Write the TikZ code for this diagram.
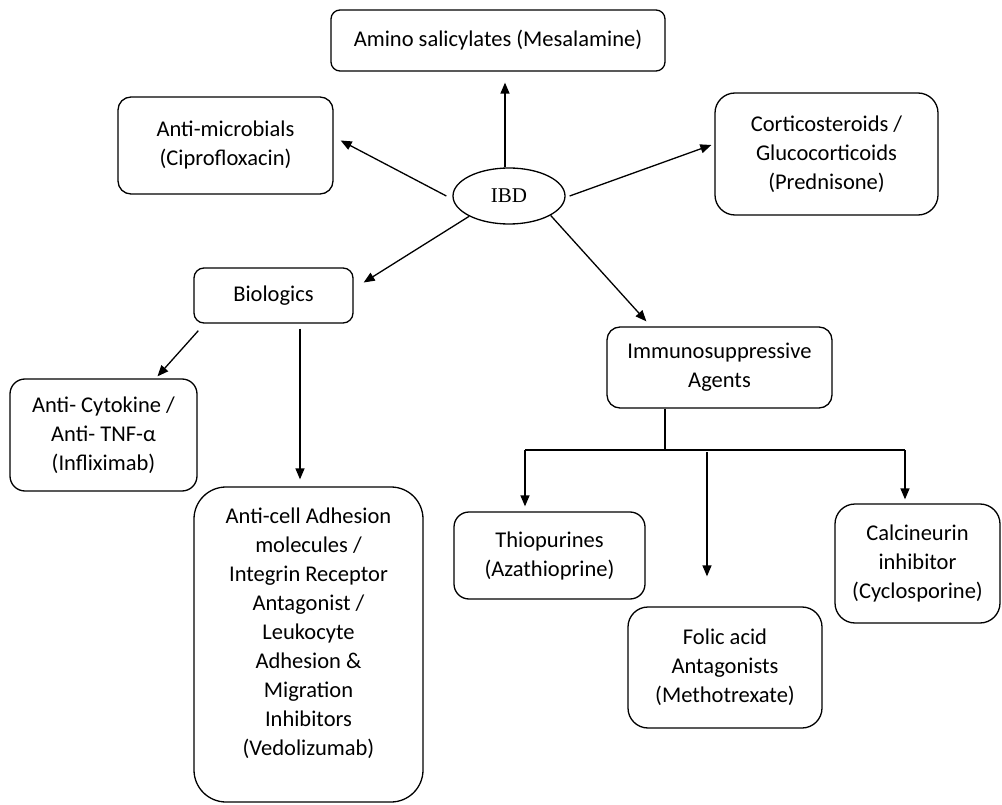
\documentclass[tikz,border=0pt]{standalone}
\usepackage{fontspec}
\setmainfont{Carlito}
\newfontfamily\ibdfont{Liberation Serif}
\usepackage{tikz}
\usetikzlibrary{arrows.meta, positioning, shapes.geometric}

\begin{document}
\begin{tikzpicture}[x=1pt, y=-1pt,
    box/.style={draw, line width=1.3pt, rounded corners=#1, align=center,
        inner sep=2pt, font=\fontsize{22.5}{29}\selectfont},
    box/.default=13pt,
    ibdnode/.style={draw, ellipse, line width=1.3pt, inner sep=0pt,
        minimum width=112pt, minimum height=56pt, font=\ibdfont\fontsize{21}{25}\selectfont},
    arr/.style={-{Triangle[length=11pt, width=9pt]}, line width=1.3pt},
    link/.style={line width=1.3pt}]
    \useasboundingbox (0,0) rectangle (1002,805);

    % Centre
    \node[ibdnode] (ibd) at (509,196) {IBD};

    % First level
    \node[box=9pt, minimum width=334pt, minimum height=61pt] (amino) at (498,40.5)
        {Amino salicylates (Mesalamine)};
    \node[box, minimum width=215pt, minimum height=97pt] (micro) at (225.5,145.5)
        {Anti-microbials\\(Ciprofloxacin)};
    \node[box=20pt, minimum width=223pt, minimum height=122pt] (cortico) at (826.5,154)
        {Corticosteroids /\\Glucocorticoids\\(Prednisone)};
    \node[box=10pt, minimum width=159pt, minimum height=55pt] (bio) at (273.5,295.5)
        {Biologics};
    \node[box, minimum width=225pt, minimum height=81pt] (immuno) at (719.5,367.5)
        {Immunosuppressive\\Agents};

    % Biologics branch
    \node[box=15pt, minimum width=187pt, minimum height=112pt] (cyto) at (103.5,435)
        {Anti- Cytokine /\\Anti- TNF-α\\(Infliximab)};
    \node[box=32pt, minimum width=229pt, minimum height=315pt, text depth=26pt] (cell) at (308.5,644.5)
        {Anti-cell Adhesion\\molecules /\\Integrin Receptor\\Antagonist /\\Leukocyte\\Adhesion \&\\Migration\\Inhibitors\\(Vedolizumab)};

    % Immunosuppressive branch
    \node[box=15pt, minimum width=191pt, minimum height=87pt] (thio) at (549.5,555.5)
        {Thiopurines\\(Azathioprine)};
    \node[box=20pt, minimum width=194pt, minimum height=121pt] (folic) at (725,667.5)
        {Folic acid\\Antagonists\\(Methotrexate)};
    \node[box=20pt, minimum width=165pt, minimum height=119pt] (calc) at (917.5,563.5)
        {Calcineurin\\inhibitor\\(Cyclosporine)};

    % Arrows from IBD
    \draw[arr, shorten >=11pt] ([xshift=-4pt]ibd.north) -- ([xshift=-4pt]ibd.north |- amino.south);
    \draw[arr] ([xshift=-6pt]ibd.west) -- ([xshift=7pt, yshift=5pt]micro.east);
    \draw[arr] ([xshift=4pt]ibd.east) -- ([xshift=-3pt, yshift=9pt]cortico.west);
    \draw[arr] (ibd.207) -- ([xshift=10pt, yshift=13pt]bio.east);
    \draw[arr] (ibd.-25) -- ([xshift=40pt, yshift=5pt]immuno.north west);

    % Biologics arrows
    \draw[arr] ([xshift=5pt, yshift=-7pt]bio.south west) -- ([xshift=54pt, yshift=2pt]cyto.north);
    \draw[arr, shorten <=5pt, shorten >=7pt] ([xshift=26.5pt]bio.south) -- ([xshift=26.5pt]bio.south |- cell.north);

    % Immunosuppressive tree
    \coordinate (split) at (665,450);
    \coordinate (thioin) at (525,450);
    \coordinate (folicin) at (707,452);
    \coordinate (calcin) at (905,450);
    \draw[link] ([xshift=-54.5pt]immuno.south) -- (split);
    \draw[link] (thioin) -- (calcin);
    \draw[arr, shorten >=5pt] (thioin) -- (thioin |- thio.north);
    \draw[arr, shorten >=30pt] (folicin) -- (folicin |- folic.north);
    \draw[arr, shorten >=4pt] (calcin) -- (calcin |- calc.north);
\end{tikzpicture}
\end{document}
